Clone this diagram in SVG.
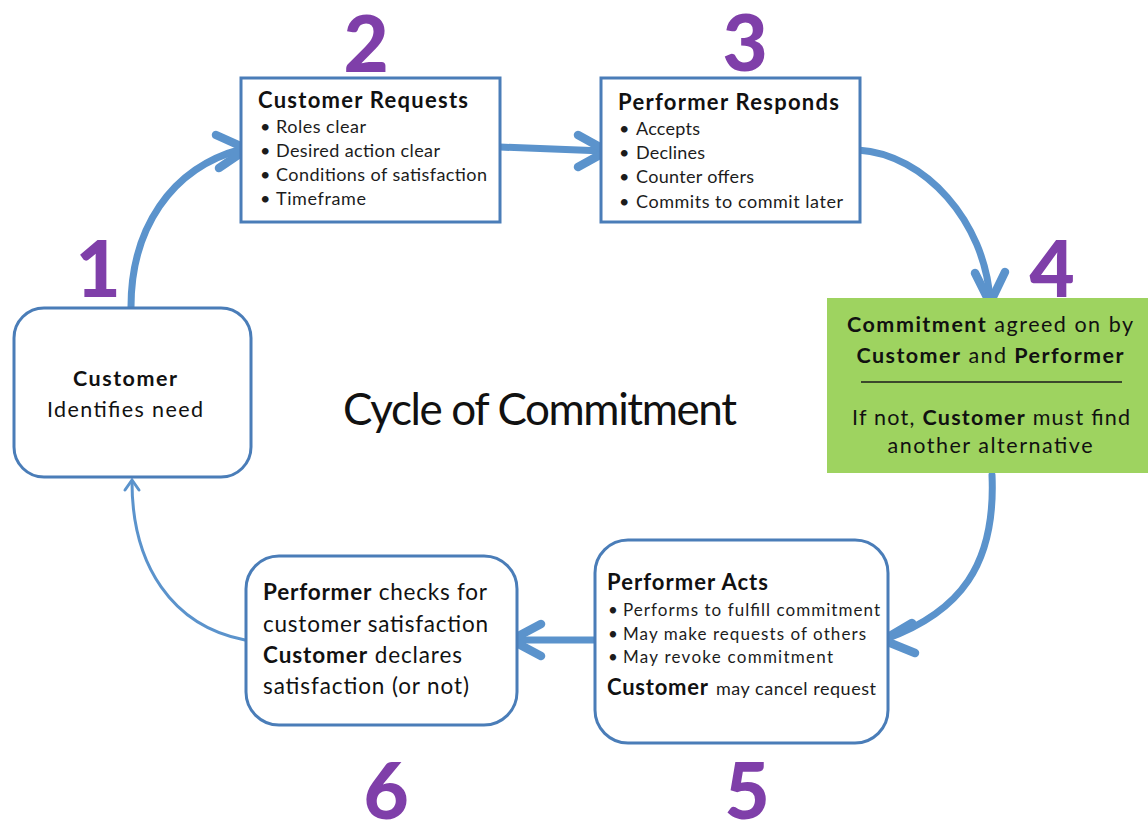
<svg xmlns="http://www.w3.org/2000/svg" width="1148" height="825" viewBox="0 0 1148 825">
  <style>
    text { font-family: Lato, "Open Sans", "Liberation Sans", sans-serif; fill: #111; }
    .b { font-weight: bold; }
    .h { font-size: 22px; font-weight: bold; }
    .li { font-size: 18px; fill: #1c1c1c; }
    .sm { font-size: 17px; fill: #1c1c1c; }
    .t20 { font-size: 21.5px; }
    .t21 { font-size: 22.5px; }
    .num { font-size: 78px; font-weight: 900; fill: #7f3fa9; text-anchor: middle; }
    .box { fill: #fff; stroke: #4a7db8; stroke-width: 3; }
    .green { fill: #9ed360; }
    .flow { fill: none; stroke: #5b93cc; stroke-width: 7; stroke-linecap: round; }
    .head { fill: none; stroke: #5b93cc; stroke-width: 8.5; stroke-linecap: round; stroke-linejoin: miter; }
    .thin { fill: none; stroke: #5b93cc; stroke-width: 3; stroke-linecap: round; }
  </style>

  <!-- connectors -->
  <g id="connectors">
    <!-- 1 to 2 -->
    <path class="flow" d="M131,307 C131,230 170,168 242,149"/>
    <path class="head" d="M216,135 L247,149 L219,168"/>
    <!-- 2 to 3 -->
    <path class="flow" d="M500,147 L604,151"/>
    <path class="head" d="M578,135 L607,151 L578,167"/>
    <!-- 3 to 4 -->
    <path class="flow" d="M858,150 C925,154 985,222 990,300"/>
    <path class="head" d="M975,273 L990,303 L1005,272"/>
    <!-- 4 to 5 -->
    <path class="flow" d="M992,475 C996,565 960,612 886,639"/>
    <path class="head" d="M912,623 L883,640 L915,653"/>
    <!-- 5 to 6 -->
    <path class="flow" d="M594,640 L514,640"/>
    <path class="head" d="M541,624 L511,640 L541,656"/>
    <!-- 6 to 1 -->
    <path class="thin" d="M245,640 C172,626 132,565 132,482"/>
    <path class="thin" d="M125,490 L132,480 L139,490"/>
  </g>

  <!-- 1: customer identifies need -->
  <g id="node-1">
    <rect class="box" x="14" y="308" width="237" height="169" rx="30"/>
    <text class="t20 b" x="125" y="386" text-anchor="middle" textLength="104">Customer</text>
    <text class="t20" x="125" y="417" text-anchor="middle" textLength="156">Identifies need</text>
    <text class="num" x="98" y="297">1</text>
  </g>

  <!-- 2: customer requests -->
  <g id="node-2">
    <rect class="box" x="241" y="78" width="259" height="144"/>
    <text class="h" x="258" y="108" textLength="210">Customer Requests</text>
    <text class="li" x="260" y="133">•</text><text class="li" x="276" y="133" textLength="90">Roles clear</text>
    <text class="li" x="260" y="157">•</text><text class="li" x="276" y="157" textLength="164">Desired action clear</text>
    <text class="li" x="260" y="181">•</text><text class="li" x="276" y="181" textLength="211">Conditions of satisfaction</text>
    <text class="li" x="260" y="205">•</text><text class="li" x="276" y="205" textLength="90">Timeframe</text>
    <text class="num" x="366" y="72">2</text>
  </g>

  <!-- 3: performer responds -->
  <g id="node-3">
    <rect class="box" x="601" y="78" width="259" height="144"/>
    <text class="h" x="618" y="110" textLength="221">Performer Responds</text>
    <text class="li" x="619" y="135">•</text><text class="li" x="636" y="135" textLength="64">Accepts</text>
    <text class="li" x="619" y="159">•</text><text class="li" x="636" y="159" textLength="69">Declines</text>
    <text class="li" x="619" y="183">•</text><text class="li" x="636" y="183" textLength="118">Counter offers</text>
    <text class="li" x="619" y="208">•</text><text class="li" x="636" y="208" textLength="207">Commits to commit later</text>
    <text class="num" x="745" y="71">3</text>
  </g>

  <!-- 4: commitment agreed -->
  <g id="node-4">
    <rect class="green" x="827" y="298" width="321" height="175"/>
    <text class="t20" x="990" y="332" text-anchor="middle" textLength="286"><tspan class="b">Commitment</tspan> agreed on by</text>
    <text class="t20" x="990" y="363" text-anchor="middle" textLength="267"><tspan class="b">Customer</tspan> and <tspan class="b">Performer</tspan></text>
    <line x1="861" y1="382" x2="1122" y2="382" stroke="#1a1a1a" stroke-width="1.3"/>
    <text class="t20" x="991" y="425" text-anchor="middle" textLength="278">If not, <tspan class="b">Customer</tspan> must find</text>
    <text class="t20" x="990" y="453" text-anchor="middle" textLength="205">another alternative</text>
    <text class="num" x="1052" y="297">4</text>
  </g>

  <!-- 5: performer acts -->
  <g id="node-5">
    <rect class="box" x="595" y="540" width="293" height="203" rx="33"/>
    <text class="h" x="607" y="590" textLength="161">Performer Acts</text>
    <text class="sm" x="608" y="616">•</text><text class="sm" x="623" y="616" textLength="257">Performs to fulfill commitment</text>
    <text class="sm" x="608" y="640">•</text><text class="sm" x="623" y="640" textLength="243">May make requests of others</text>
    <text class="sm" x="608" y="663">•</text><text class="sm" x="623" y="663" textLength="210">May revoke commitment</text>
    <text class="h" x="607" y="695" textLength="101">Customer</text>
    <text class="li" x="716" y="695" textLength="160">may cancel request</text>
    <text class="num" x="747" y="819">5</text>
  </g>

  <!-- 6: satisfaction check -->
  <g id="node-6">
    <rect class="box" x="246" y="556" width="271" height="169" rx="33"/>
    <text class="t21" x="263" y="600" textLength="224"><tspan class="b">Performer</tspan> checks for</text>
    <text class="t21" x="263" y="632" textLength="225">customer satisfaction</text>
    <text class="t21" x="263" y="663" textLength="199"><tspan class="b">Customer</tspan> declares</text>
    <text class="t21" x="263" y="694" textLength="206">satisfaction (or not)</text>
    <text class="num" x="386" y="819">6</text>
  </g>

  <!-- title -->
  <text id="title" x="343" y="425" font-size="44" textLength="394">Cycle of Commitment</text>
</svg>
